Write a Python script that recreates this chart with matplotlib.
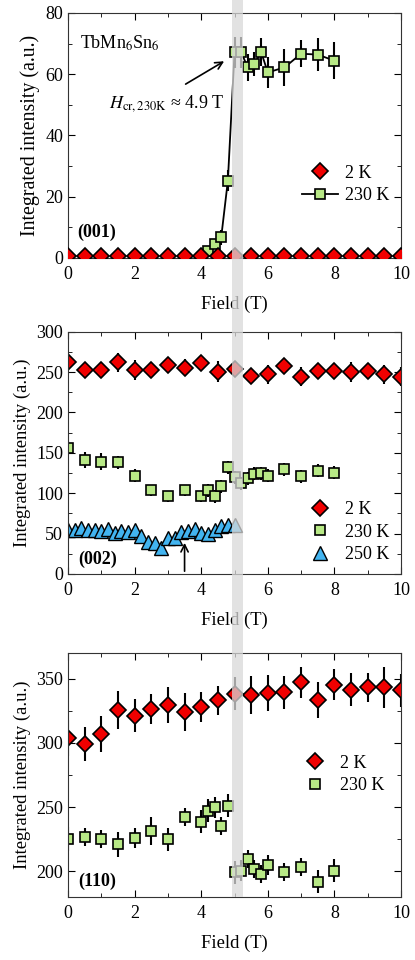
import numpy as np
import matplotlib
matplotlib.use("Agg")
import matplotlib.pyplot as plt
from matplotlib.patches import Rectangle
from matplotlib.transforms import blended_transform_factory
from matplotlib.ticker import MultipleLocator

plt.rcParams['font.family'] = ['Liberation Serif', 'DejaVu Serif']
plt.rcParams['mathtext.fontset'] = 'stix'
plt.rcParams['font.size'] = 13

# ---- data: (001) ----
f001_2k = np.arange(0, 10.01, 0.5)
i001_2k = [0.6] * len(f001_2k)
f001_230 = [4.2, 4.4, 4.6, 4.8, 5.0, 5.2, 5.4, 5.6, 5.8, 6.0, 6.5, 7.0, 7.5, 8.0]
i001_230 = [2.2, 4.6, 6.7, 25.2, 67.1, 67.1, 62.2, 63.4, 67.2, 60.6, 62.2, 66.7, 66.4, 64.4]
e001_230 = [1.5, 1.5, 2.5, 3.5, 5, 5, 4.5, 4, 4.5, 5, 6, 4.5, 5.5, 6]

# ---- data: (002) ----
f002_2k = np.arange(0, 10.01, 0.5)
i002_2k = [262, 252.6, 252.6, 262, 252.6, 252.6, 258.9, 255.6, 261.8, 250.5, 253.4,
           245.2, 247.2, 257.5, 244.4, 251.8, 250.9, 250, 251.8, 247.2, 244.4]
e002_2k = [10, 8, 10, 12, 12, 10, 8, 10, 7, 13, 10, 8, 12, 10, 12, 8, 10, 12, 10, 12, 12]
f002_230 = [0, 0.5, 1.0, 1.5, 2.0, 2.5, 3.0, 3.5, 4.0, 4.2, 4.4, 4.6, 4.8, 5.0, 5.2,
            5.4, 5.6, 5.8, 6.0, 6.5, 7.0, 7.5, 8.0]
i002_230 = [156.6, 141.3, 139.2, 138.4, 121.5, 103.4, 96, 103.4, 96, 103.4, 96, 108.4,
            131.9, 119.5, 112.5, 118.7, 124, 124.9, 121.5, 129.8, 120.7, 127.7, 125.6]
e002_230 = [8, 10, 10, 8, 8, 7, 7, 7, 7, 8, 8, 8, 8, 8, 8, 8, 8, 8, 8, 8, 8, 8, 8]
f002_250 = np.round(np.arange(0, 5.01, 0.2), 1)
i002_250 = [54, 55, 57, 55, 55, 52.7, 56, 51, 53.6, 52, 54, 46.6, 39.6, 38.3, 32,
            44.5, 44.5, 52, 53.6, 55.6, 51, 49.4, 54.8, 59.7, 60.1, 61]
e002_250 = [3] * len(f002_250)

# ---- data: (110) ----
f110_2k = np.arange(0, 10.01, 0.5)
i110_2k = [303.9, 299.2, 307.3, 325.5, 321.3, 326.4, 329.2, 324, 327.9, 333.1, 338.3,
           337.3, 338.8, 339.4, 347.1, 333.1, 345.3, 341.4, 343.2, 343.2, 340.9]
e110_2k = [14, 13, 14, 15, 13, 12, 14, 15, 12, 11, 13, 15, 14, 13, 12, 14, 12, 13, 11, 16, 13]
f110_230 = [0, 0.5, 1.0, 1.5, 2.0, 2.5, 3.0, 3.5, 4.0, 4.2, 4.4, 4.6, 4.8, 5.0, 5.2,
            5.4, 5.6, 5.8, 6.0, 6.5, 7.0, 7.5, 8.0]
i110_230 = [225.2, 227, 225, 221, 226, 231.2, 225, 242, 238.7, 247.3, 249.9, 235.6, 251,
            199.2, 200.5, 209.4, 201.6, 197.9, 205, 199.7, 203.6, 191.9, 200.5]
e110_230 = [9, 7, 7, 10, 8, 11, 9, 7, 9, 9, 8, 7, 9, 9, 8, 7, 7, 7, 8, 7, 7, 9, 9]

red = '#f00000'
green = '#b8e986'
blue = '#42b4f0'

fig = plt.figure(figsize=(4.15, 9.6), dpi=100)
ax1 = fig.add_axes([0.1639, 0.7313, 0.8024, 0.2552])
ax2 = fig.add_axes([0.1639, 0.4021, 0.8024, 0.2524])
ax3 = fig.add_axes([0.1639, 0.0656, 0.8024, 0.2542])

dia = dict(marker='D', ms=8, mfc=red, mec='k', mew=1.2, ecolor='k', elinewidth=1.5,
           capsize=0, ls='none')
sq = dict(marker='s', ms=7, mfc=green, mec='k', mew=1.2, ecolor='k', elinewidth=1.5,
          capsize=0)
tri = dict(marker='^', ms=9.5, mfc=blue, mec='k', mew=1.0, ecolor='k', elinewidth=1.2,
           capsize=0, ls='none')

leg_kw = dict(frameon=False, fontsize=13, handlelength=2.0, handletextpad=0.4,
              labelspacing=0.3, borderpad=0, borderaxespad=0)

# (001)
p2k, = ax1.plot(f001_2k, i001_2k, label='2 K', ls='none', marker='D', ms=8, mfc=red,
                mec='k', mew=1.2, zorder=3)
e230 = ax1.errorbar(f001_230, i001_230, yerr=e001_230, color='k', lw=1.3, **sq)
ax1.set_ylim(0, 80)
ax1.yaxis.set_major_locator(MultipleLocator(20))
ax1.yaxis.set_minor_locator(MultipleLocator(10))
ax1.text(0.35, 70, r'TbMn$_6$Sn$_6$', va='center')
ax1.text(1.23, 50.3, r'$H_{\rm cr,230K}$ ≈ 4.9 T', va='center')
ax1.annotate('', xy=(4.76, 64.7), xytext=(3.46, 56.3),
             arrowprops=dict(arrowstyle='->', color='k', lw=1.2))
ax1.text(0.27, 8.5, '(001)', fontweight='bold', va='center')
ax1.legend([p2k, e230[0]], ['2 K', '230 K'], loc='center right',
           bbox_to_anchor=(0.965, 0.30), **leg_kw)
ax1.set_ylabel('Integrated intensity (a.u.)', fontsize=14.3)

# (002)
a = ax2.errorbar(f002_2k, i002_2k, yerr=e002_2k, **dia)
b = ax2.errorbar(f002_230, i002_230, yerr=e002_230, ls='none', **sq)
c = ax2.errorbar(f002_250, i002_250, yerr=e002_250, **tri)
ax2.set_ylim(0, 300)
ax2.yaxis.set_major_locator(MultipleLocator(50))
ax2.yaxis.set_minor_locator(MultipleLocator(25))
ax2.annotate('', xy=(3.5, 42), xytext=(3.5, 0),
             arrowprops=dict(arrowstyle='->', color='k', lw=1.2))
ax2.text(0.3, 18.6, '(002)', fontweight='bold', va='center')
ax2.legend([a[0], b[0], c[0]], ['2 K', '230 K', '250 K'], loc='center right',
           bbox_to_anchor=(0.965, 0.173), **leg_kw)
ax2.set_ylabel('Integrated intensity (a.u.)', fontsize=13.4)

# (110)
a = ax3.errorbar(f110_2k, i110_2k, yerr=e110_2k, **dia)
b = ax3.errorbar(f110_230, i110_230, yerr=e110_230, ls='none', **sq)
ax3.set_ylim(180, 370)
ax3.yaxis.set_major_locator(MultipleLocator(50))
ax3.yaxis.set_minor_locator(MultipleLocator(25))
ax3.text(0.3, 192.5, '(110)', fontweight='bold', va='center')
ax3.legend([a[0], b[0]], ['2 K', '230 K'], loc='center right',
           bbox_to_anchor=(0.95, 0.502), **leg_kw)
ax3.set_ylabel('Integrated intensity (a.u.)', fontsize=13.4)

for ax in (ax1, ax2, ax3):
    ax.set_xlim(0, 10)
    ax.xaxis.set_major_locator(MultipleLocator(2))
    ax.xaxis.set_minor_locator(MultipleLocator(1))
    ax.tick_params(which='both', direction='in', top=True, right=True, labelsize=13)
    ax.tick_params(axis='x', pad=6)
    ax.tick_params(which='major', length=5)
    ax.tick_params(which='minor', length=3)
    ax.set_xlabel('Field (T)', fontsize=13.4, labelpad=9)
    for s in ax.spines.values():
        s.set_color('#333333')

# grey band marking the critical field, spanning all panels
tr = blended_transform_factory(ax1.transData, fig.transFigure)
band = Rectangle((4.92, 0.0656), 0.33, 1.0 - 0.0656, transform=tr, color='#d9d9d9',
                 alpha=0.75, lw=0, zorder=10)
fig.patches.append(band)

fig.savefig('out.png', dpi=100)
